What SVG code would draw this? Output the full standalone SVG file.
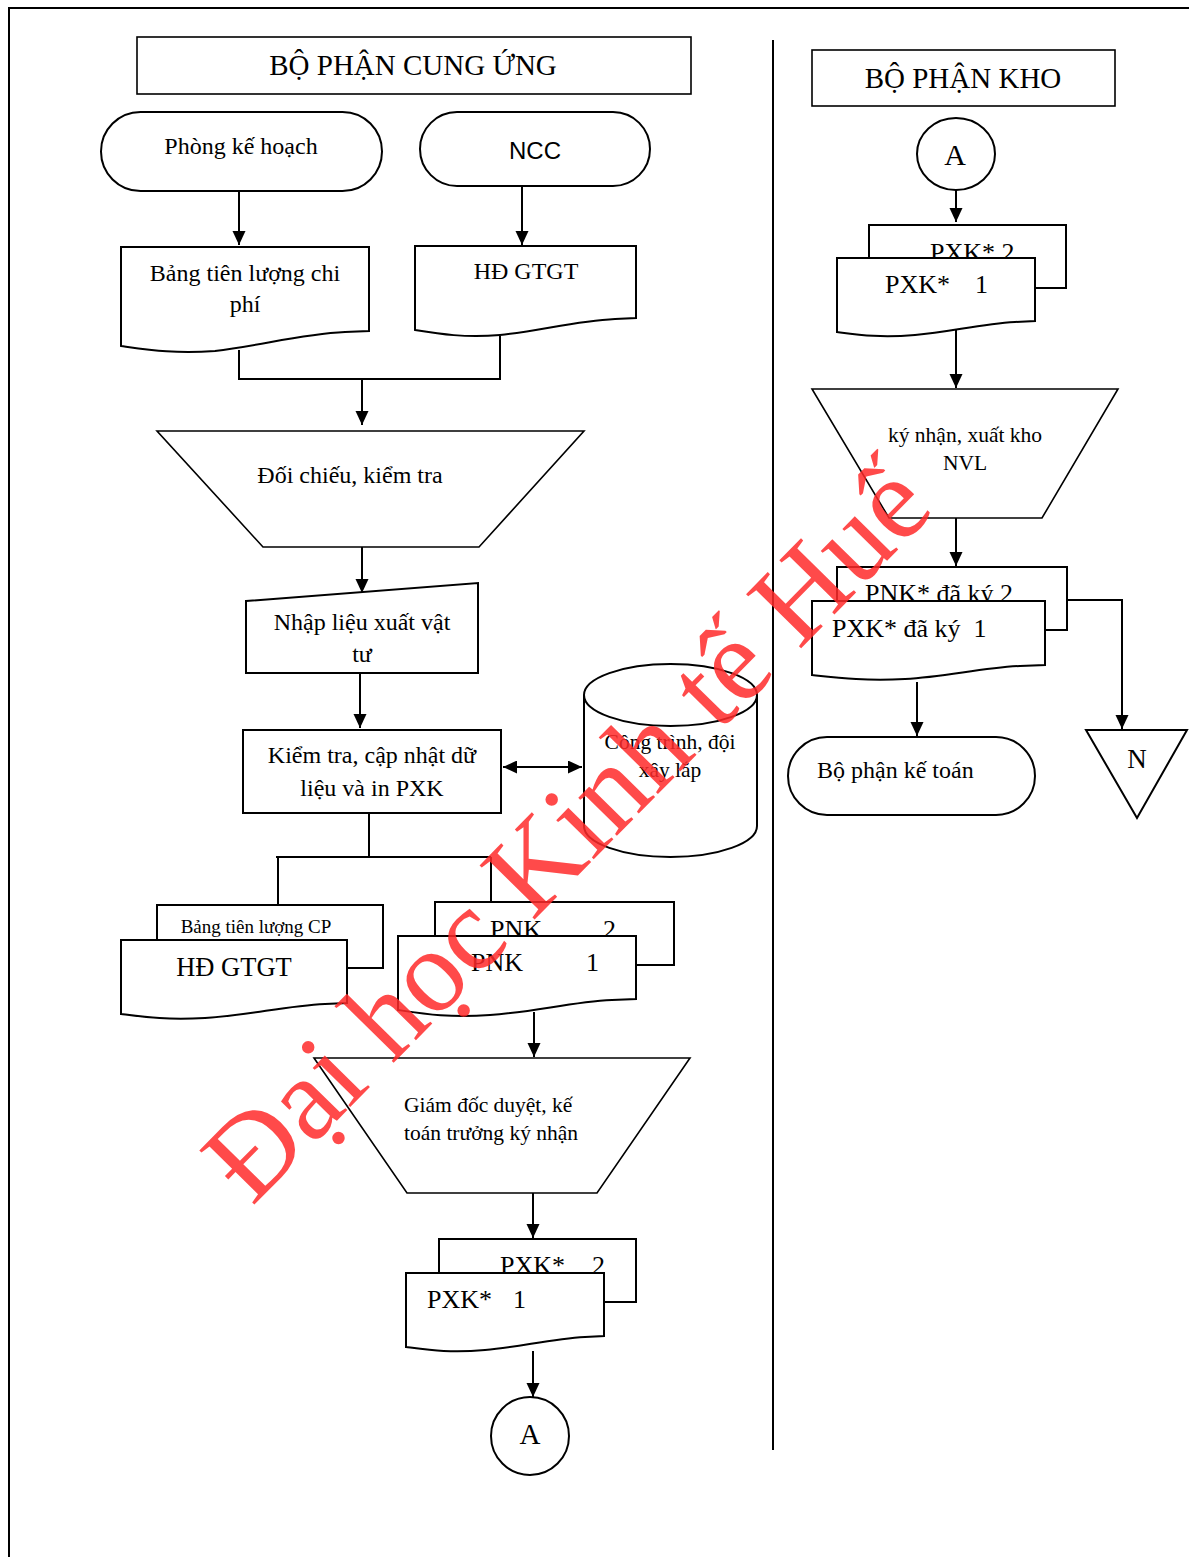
<svg xmlns="http://www.w3.org/2000/svg" width="1189" height="1557" viewBox="0 0 1189 1557">
<defs>
<marker id="ah" markerWidth="16" markerHeight="16" refX="14" refY="6.5" orient="auto" markerUnits="userSpaceOnUse">
<path d="M0,0 L14,6.5 L0,13 Z" fill="#000"/>
</marker>
<marker id="ahs" markerWidth="16" markerHeight="16" refX="0" refY="6.5" orient="auto" markerUnits="userSpaceOnUse">
<path d="M14,0 L0,6.5 L14,13 Z" fill="#000"/>
</marker>
</defs>
<style>
.s{fill:#fff;stroke:#000;stroke-width:2}
.t{fill:#fff;stroke:#000;stroke-width:1.6}
.c{fill:none;stroke:#000;stroke-width:2}
.a{fill:none;stroke:#000;stroke-width:2;marker-end:url(#ah)}
text{font-family:"Liberation Serif","Times New Roman",serif;fill:#000}
.m{text-anchor:middle}
.wm{fill:#ff2a2a;fill-opacity:0.85}
</style>
<rect width="1189" height="1557" fill="#fff"/>
<path d="M9,1557 V8 H1189" fill="none" stroke="#000" stroke-width="2"/>
<line x1="773" y1="40" x2="773" y2="1450" stroke="#000" stroke-width="2"/>

<g id="connectors">
<line class="a" x1="239" y1="191" x2="239" y2="245"/>
<line class="a" x1="522" y1="186" x2="522" y2="245"/>
<path class="c" d="M239,350 V379 H500 V336"/>
<line class="a" x1="362" y1="379" x2="362" y2="425"/>
<line class="a" x1="362" y1="543" x2="362" y2="593"/>
<line class="a" x1="360" y1="673" x2="360" y2="728"/>
<line x1="503" y1="767" x2="582" y2="767" stroke="#000" stroke-width="2" marker-end="url(#ah)" marker-start="url(#ahs)"/>
<path class="c" d="M369,813 V857 M276,857 H491 M278,857 V905 M491,857 V902"/>
<line class="a" x1="534" y1="1012" x2="534" y2="1057"/>
<line class="a" x1="533" y1="1193" x2="533" y2="1238"/>
<line class="a" x1="533" y1="1351" x2="533" y2="1397"/>
<line class="a" x1="956" y1="190" x2="956" y2="222"/>
<line class="a" x1="956" y1="328" x2="956" y2="388"/>
<line class="a" x1="956" y1="518" x2="956" y2="566"/>
<path class="a" d="M1067,600 H1122 V729"/>
<line class="a" x1="917" y1="682" x2="917" y2="736"/>
</g>

<g id="title-cung-ung">
<rect class="t" x="137" y="37" width="554" height="57"/>
<text class="m" x="413" y="75" font-size="29">BỘ PHẬN CUNG ỨNG</text>
</g>

<g id="phong-ke-hoach">
<rect class="s" x="101" y="112" width="281" height="79" rx="39.5"/>
<text class="m" x="241" y="154" font-size="24">Phòng kế hoạch</text>
</g>

<g id="ncc">
<rect class="s" x="420" y="112" width="230" height="74" rx="37"/>
<text class="m" x="535" y="159" font-size="24" style="font-family:'Liberation Sans',Arial,sans-serif">NCC</text>
</g>

<g id="bang-tien-luong">
<path class="s" d="M121,247 H369 V331 L345,332 C300,334 260,346 215,351 C175,354 150,350 121,346 Z"/>
<text class="m" x="245" y="281" font-size="24">Bảng tiên lượng chi</text>
<text class="m" x="245" y="312" font-size="24">phí</text>
</g>

<g id="hd-gtgt-1">
<path class="s" d="M415,246 H636 V318 L615,319 C575,321 540,331 500,335 C465,338 440,334 415,330 Z"/>
<text class="m" x="526" y="279" font-size="24">HĐ GTGT</text>
</g>

<g id="doi-chieu">
<path class="t" d="M157,431 H584 L479,547 H263 Z"/>
<text class="m" x="350" y="483" font-size="24">Đối chiếu, kiểm tra</text>
</g>

<g id="nhap-lieu">
<path class="s" d="M246,601 L478,583 V673 H246 Z"/>
<text class="m" x="362" y="630" font-size="24">Nhập liệu xuất vật</text>
<text class="m" x="362" y="662" font-size="24">tư</text>
</g>

<g id="kiem-tra-cap-nhat">
<rect class="s" x="243" y="730" width="258" height="83"/>
<text class="m" x="372" y="763" font-size="24">Kiểm tra, cập nhật dữ</text>
<text class="m" x="372" y="796" font-size="24">liệu và in PXK</text>
</g>

<g id="cong-trinh">
<path class="s" d="M584,695 A86.5,31 0 0 1 757,695 V826 A86.5,31 0 0 1 584,826 Z"/>
<path class="c" d="M584,695 A86.5,31 0 0 0 757,695"/>
<text class="m" x="670" y="749" font-size="21.5">Công trình, đội</text>
<text class="m" x="670" y="777" font-size="21.5">xây lắp</text>
</g>

<g id="bang-cp-hd-gtgt">
<rect class="s" x="157" y="905" width="226" height="63"/>
<text class="m" x="256" y="933" font-size="19">Bảng tiên lượng CP</text>
<path class="s" d="M121,940 H347 V1003 L325,1004 C285,1006 250,1015 205,1018 C165,1020 145,1017 121,1014 Z"/>
<text class="m" x="234" y="976" font-size="26.5">HĐ GTGT</text>
</g>

<g id="pnk">
<rect class="s" x="435" y="902" width="239" height="63"/>
<text x="490" y="938" font-size="26">PNK</text>
<text x="603" y="938" font-size="26">2</text>
<path class="s" d="M398,936 H636 V999 L612,1000 C570,1002 535,1012 490,1015 C450,1018 425,1014 398,1010 Z"/>
<text x="471" y="971" font-size="26">PNK</text>
<text x="586" y="971" font-size="26">1</text>
</g>

<g id="giam-doc-duyet">
<path class="t" d="M314,1058 H690 L597,1193 H407 Z"/>
<text x="404" y="1112" font-size="21.5">Giám đốc duyệt, kế</text>
<text x="404" y="1140" font-size="21.5">toán trưởng ký nhận</text>
</g>

<g id="pxk-left">
<rect class="s" x="439" y="1239" width="197" height="63"/>
<text x="500" y="1274" font-size="26">PXK*</text>
<text x="592" y="1274" font-size="26">2</text>
<path class="s" d="M406,1273 H604 V1336 L585,1337 C550,1339 520,1347 485,1350 C450,1353 430,1350 406,1347 Z"/>
<text x="427" y="1308" font-size="26">PXK*</text>
<text x="513" y="1308" font-size="26">1</text>
</g>

<g id="connector-a-bottom">
<circle cx="530" cy="1436" r="39" fill="#fff" stroke="#000" stroke-width="2"/>
<text class="m" x="530" y="1444" font-size="29">A</text>
</g>

<g id="title-kho">
<rect class="t" x="812" y="50" width="303" height="56"/>
<text class="m" x="963" y="88" font-size="29">BỘ PHẬN KHO</text>
</g>

<g id="connector-a-top">
<ellipse cx="956" cy="154" rx="39" ry="36" fill="#fff" stroke="#000" stroke-width="2"/>
<text class="m" x="955" y="165" font-size="30">A</text>
</g>

<g id="pxk-right">
<rect class="s" x="869" y="225" width="197" height="63"/>
<text x="930" y="261" font-size="26">PXK* 2</text>
<path class="s" d="M837,258 H1035 V321 L1015,322 C980,324 950,332 915,335 C880,338 860,335 837,332 Z"/>
<text x="885" y="293" font-size="26">PXK*</text>
<text x="975" y="293" font-size="26">1</text>
</g>

<g id="ky-nhan-xuat-kho">
<path class="t" d="M812,389 H1118 L1042,518 H889 Z"/>
<text class="m" x="965" y="442" font-size="21.5">ký nhận, xuất kho</text>
<text class="m" x="965" y="470" font-size="21.5">NVL</text>
</g>

<g id="phieu-da-ky">
<rect class="s" x="837" y="567" width="230" height="63"/>
<text x="865" y="602" font-size="26">PNK* đã ký 2</text>
<path class="s" d="M812,601 H1045 V665 L1020,666 C980,668 945,677 905,679 C865,681 840,678 812,675 Z"/>
<text x="832" y="637" font-size="26" xml:space="preserve">PXK* đã ký  1</text>
</g>

<g id="bo-phan-ke-toan">
<rect class="s" x="788" y="737" width="247" height="78" rx="39"/>
<text x="817" y="778" font-size="24">Bộ phận kế toán</text>
</g>

<g id="n-store">
<path class="s" d="M1086,730 H1187 L1137,818 Z"/>
<text class="m" x="1137" y="768" font-size="27">N</text>
</g>

<text class="wm" x="0" y="0" font-size="118" transform="translate(252,1207) rotate(-45.5)">Đại học Kinh tế Huế</text>
</svg>
